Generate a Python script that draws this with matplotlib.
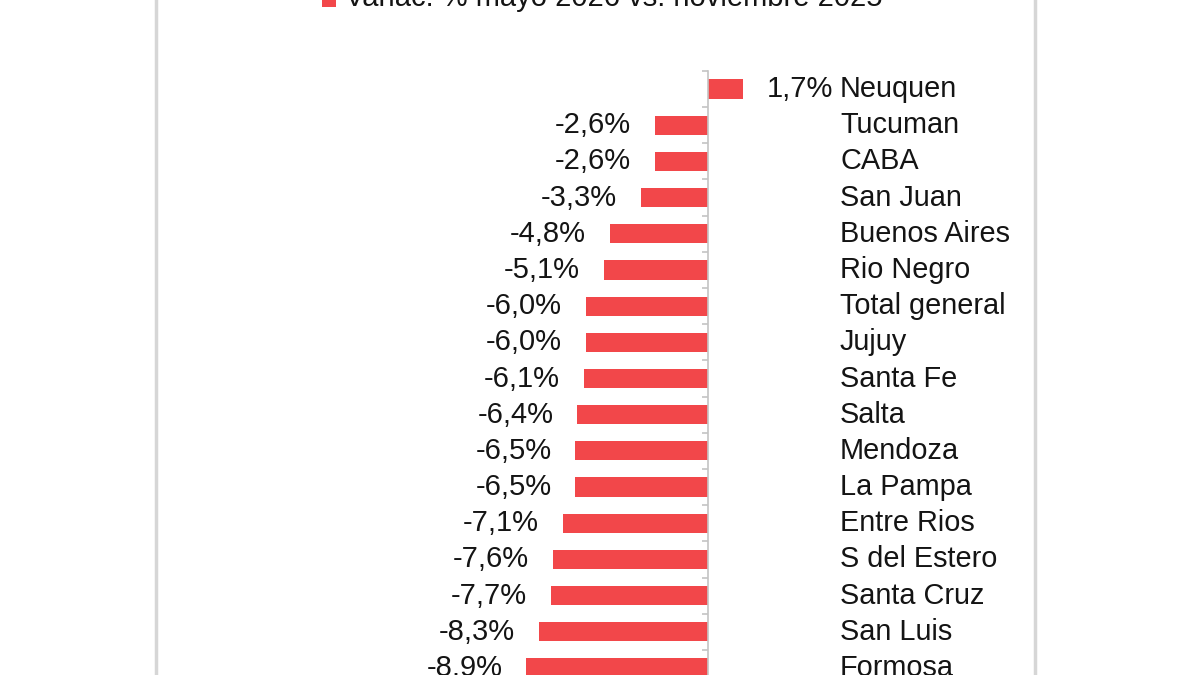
import matplotlib.pyplot as plt
import numpy as np
from matplotlib.patches import Rectangle
from matplotlib.lines import Line2D

plt.rcParams['font.family'] = ['Liberation Sans', 'DejaVu Sans']

provincias = ['Neuquen', 'Tucuman', 'CABA', 'San Juan', 'Buenos Aires', 'Rio Negro',
              'Total general', 'Jujuy', 'Santa Fe', 'Salta', 'Mendoza', 'La Pampa',
              'Entre Rios', 'S del Estero', 'Santa Cruz', 'San Luis', 'Formosa']
variacion = [1.7, -2.6, -2.6, -3.3, -4.8, -5.1, -6.0, -6.0, -6.1, -6.4, -6.5, -6.5,
             -7.1, -7.6, -7.7, -8.3, -8.9]
leyenda = 'Variac. % mayo 2026 vs. noviembre 2025'

rojo = '#F2474A'
gris = '#d6d6d6'
negro = '#141414'
W, H = 1200, 675

fig = plt.figure(figsize=(12, 6.75), dpi=100)
fig.patch.set_facecolor('white')
ax = fig.add_axes([0, 0, 1, 1])
ax.set_facecolor('none')

# pixel -> data scale: zero at x=708, 20.4 px per %, rows 36.2 px apart from y=89
px_x = 20.4
px_y = 36.19
x0, y0 = 708, 89

pos = np.arange(len(provincias))
ax.barh(pos, variacion, height=0.53, color=rojo, zorder=2)

gap = 24 / px_x
xname = (840 - x0) / px_x
for i, (p, v) in enumerate(zip(provincias, variacion)):
    txt = f'{v:.1f}%'.replace('.', ',')
    if v < 0:
        ax.text(v - gap, i, txt, ha='right', va='center', fontsize=21, color=negro)
    else:
        ax.text(v + gap, i, txt, ha='left', va='center', fontsize=21, color=negro)
    ax.text(xname, i, p, ha='left', va='center', fontsize=20.8, color=negro)

for s in ['top', 'right', 'bottom']:
    ax.spines[s].set_visible(False)
ax.spines['left'].set_position(('data', 0))
ax.spines['left'].set_bounds(-0.5, len(provincias) + 1)
ax.spines['left'].set_color('#c4c4c4')
ax.spines['left'].set_linewidth(1.2)
ax.set_yticks(np.arange(-0.5, len(provincias) + 0.6, 1))
ax.set_yticklabels([])
ax.tick_params(axis='y', direction='out', length=4, width=1.2, color='#c4c4c4')
ax.set_xticks([])

# limits after ticks so the ticks do not widen the view
ax.set_xlim(-x0 / px_x, (W - x0) / px_x)
ax.set_ylim((H - y0) / px_y, -y0 / px_y)

# panel borders
for xp in (156, 1035):
    fig.add_artist(Line2D([xp / W, xp / W], [0, 1], color=gris, lw=2.5))

# legend (cut off at top, as in the source)
fig.add_artist(Rectangle((322 / W, 1 - 7 / H), 14 / W, 15 / H, color=rojo, lw=0))
fig.text(345 / W, 1 - 6 / H, leyenda, ha='left', va='baseline', fontsize=21, color=negro)

fig.savefig('out.png', dpi=100, facecolor='white')
